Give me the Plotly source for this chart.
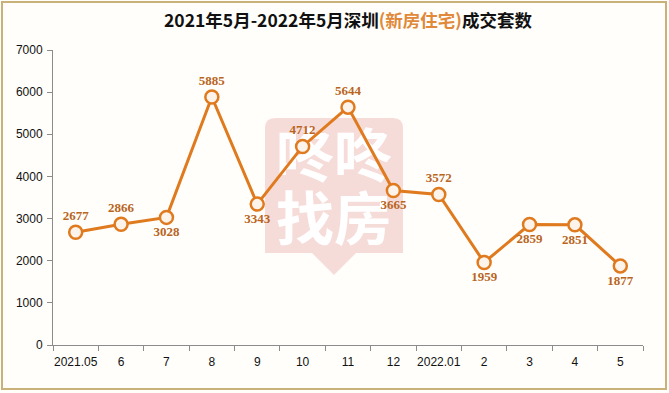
import base64
import plotly.graph_objects as go

months = ["2021.05", "6", "7", "8", "9", "10", "11", "12", "2022.01", "2", "3", "4", "5"]
deals = [2677, 2866, 3028, 5885, 3343, 4712, 5644, 3665, 3572, 1959, 2859, 2851, 1877]
label_pos = ["top center", "top center", "bottom center", "top center", "bottom center",
             "top center", "top center", "bottom center", "top center", "bottom center",
             "bottom center", "bottom center", "bottom center"]

W, H = 669, 393
L, R, T, B = 53, 26, 50, 48
pw, ph = W - L - R, H - T - B


def px(x):
    return (x - L) / pw


def py(y):
    return (H - B - y) / ph


fig = go.Figure()
fig.add_trace(go.Scatter(
    x=months, y=deals, mode="lines+markers+text",
    line=dict(color="#E07A1F", width=3),
    marker=dict(size=13, color="#FCF3EA", line=dict(color="#E07A1F", width=2.5)),
    text=[str(v) for v in deals], textposition=label_pos,
    textfont=dict(family="Liberation Serif", size=13, color="#B9651E", weight="bold"),
    cliponaxis=False, showlegend=False, hoverinfo="skip",
))

# watermark shield as an SVG image placed below the traces
wx0, wy0, ww, wh = 265, 118, 138, 157
svg = (
    f'<svg xmlns="http://www.w3.org/2000/svg" width="{ww}" height="{wh}" viewBox="0 0 {ww} {wh}">'
    f'<path d="M10,0 H128 Q138,0 138,10 V135 H91 L69,157 L47,135 H0 V10 Q0,0 10,0 Z" fill="#F6DCD9"/>'
    f'<text x="69" y="59" font-family="Noto Sans CJK SC" font-weight="bold" font-size="58" '
    f'fill="white" text-anchor="middle">咚咚</text>'
    f'<text x="69" y="122" font-family="Noto Sans CJK SC" font-weight="bold" font-size="58" '
    f'fill="white" text-anchor="middle">找房</text>'
    f'</svg>'
)
svg_uri = "data:image/svg+xml;base64," + base64.b64encode(svg.encode("utf-8")).decode("ascii")

images = [dict(source=svg_uri, xref="paper", yref="paper", x=px(wx0), y=py(wy0),
               sizex=ww / pw, sizey=wh / ph, xanchor="left", yanchor="top",
               sizing="stretch", layer="below")]

shapes = [
    dict(type="rect", xref="paper", yref="paper", x0=px(2), x1=px(666), y0=py(389), y1=py(2),
         line=dict(color="#C9B277", width=2), fillcolor="rgba(0,0,0,0)", layer="below"),
]

fig.update_layout(
    width=W, height=H,
    margin=dict(l=L, r=R, t=T, b=B),
    paper_bgcolor="#FFFEFA", plot_bgcolor="rgba(0,0,0,0)",
    title=dict(
        text="2021年5月-2022年5月深圳<span style='color:#E0893A'>(新房住宅)</span>成交套数",
        x=0.5, xref="paper", xanchor="center", y=1 - 21 / H, yanchor="middle",
        font=dict(family="Noto Sans CJK SC", size=17.5, color="#111111", weight="bold"),
    ),
    xaxis=dict(type="category", showgrid=False, showline=True, linecolor="#8C8C8C",
               ticks="outside", tickson="boundaries", ticklen=5, tickcolor="#8C8C8C",
               tickangle=0, automargin=False, ticklabelstandoff=6,
               tickfont=dict(family="Liberation Sans", size=12, color="#111111"),
               range=[-0.5, 12.5], fixedrange=True),
    yaxis=dict(range=[0, 7000], dtick=1000, showgrid=False, showline=True, linecolor="#8C8C8C",
               ticks="outside", ticklen=5, tickcolor="#8C8C8C", zeroline=False, automargin=False,
               ticklabelstandoff=2,
               tickfont=dict(family="Liberation Sans", size=12, color="#111111"), fixedrange=True),
    shapes=shapes, images=images,
)

fig.write_html("out.html", config={"displayModeBar": False},
               post_script="document.body.style.margin='0px';document.body.style.overflow='hidden';")
